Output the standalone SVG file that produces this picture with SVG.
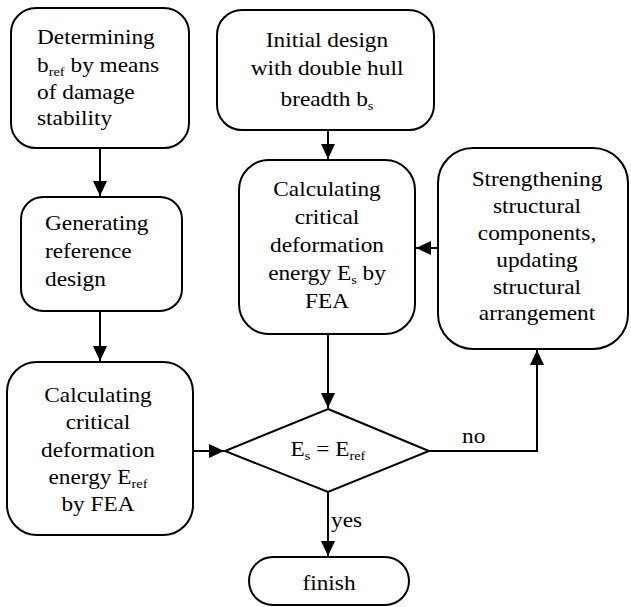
<svg xmlns="http://www.w3.org/2000/svg" width="631" height="607" viewBox="0 0 631 607">
<defs>
<marker id="ah" markerUnits="userSpaceOnUse" markerWidth="16" markerHeight="16" viewBox="0 0 16 16" refX="15" refY="8" orient="auto">
<path d="M0,1 L15,8 L0,15 Z" fill="#000"/>
</marker>
<style>
.n{fill:#fff;stroke:#000;stroke-width:2}
.c{fill:none;stroke:#000;stroke-width:2;marker-end:url(#ah)}
text{font-size:21px;fill:#000}
.m{text-anchor:middle}
.s{font-size:13px}
</style>
</defs>
<rect width="631" height="607" fill="#fff"/>
<g font-family="Liberation Serif, DejaVu Serif, serif">
<g id="connectors">
<path class="c" d="M100,148 V196"/>
<path class="c" d="M100,311 V361"/>
<path class="c" d="M328,130 V159"/>
<path class="c" d="M193,451 H224"/>
<path class="c" d="M438,248 H416"/>
<path class="c" d="M328,334 V408"/>
<path class="c" d="M429,451 H537 V350"/>
<path class="c" d="M328,492 V556"/>
<text transform="matrix(1.11,0,0,1,462,0)" y="443">no</text>
<text transform="matrix(1.11,0,0,1,331,0)" y="527">yes</text>
</g>
<g id="n1">
<rect class="n" x="11" y="8" width="178" height="140" rx="25"/>
<g transform="matrix(1.11,0,0,1,37,0)">
<text y="44">Determining</text>
<text y="72">b<tspan class="s" dy="4">ref</tspan><tspan dy="-4"> by means</tspan></text>
<text y="99">of damage</text>
<text y="125">stability</text>
</g>
</g>
<g id="n2">
<rect class="n" x="217" y="10" width="217" height="120" rx="25"/>
<g transform="matrix(1.11,0,0,1,327,0)">
<text class="m" y="47">Initial design</text>
<text class="m" y="75">with double hull</text>
<text class="m" y="106">breadth b<tspan class="s" dy="4">s</tspan></text>
</g>
</g>
<g id="n3">
<rect class="n" x="21" y="197" width="161" height="114" rx="22"/>
<g transform="matrix(1.11,0,0,1,45,0)">
<text y="230">Generating</text>
<text y="258">reference</text>
<text y="286">design</text>
</g>
</g>
<g id="n4">
<rect class="n" x="7" y="362" width="186" height="173" rx="30"/>
<g transform="matrix(1.11,0,0,1,98,0)">
<text class="m" y="402">Calculating</text>
<text class="m" y="429">critical</text>
<text class="m" y="457">deformation</text>
<text class="m" y="484">energy E<tspan class="s" dy="4">ref</tspan></text>
<text class="m" y="511">by FEA</text>
</g>
</g>
<g id="n5">
<rect class="n" x="239" y="160" width="176" height="174" rx="30"/>
<g transform="matrix(1.11,0,0,1,327,0)">
<text class="m" y="196">Calculating</text>
<text class="m" y="224">critical</text>
<text class="m" y="252">deformation</text>
<text class="m" y="280">energy E<tspan class="s" dy="4">s</tspan><tspan dy="-4"> by</tspan></text>
<text class="m" y="308">FEA</text>
</g>
</g>
<g id="n6">
<rect class="n" x="438" y="148" width="190" height="201" rx="35"/>
<g transform="matrix(1.11,0,0,1,537,0)">
<text class="m" y="186">Strengthening</text>
<text class="m" y="213">structural</text>
<text class="m" y="240">components,</text>
<text class="m" y="267">updating</text>
<text class="m" y="294">structural</text>
<text class="m" y="320">arrangement</text>
</g>
</g>
<g id="d1">
<path class="n" d="M328,409 L429,451 L328,492 L225,451 Z"/>
<g transform="matrix(1.11,0,0,1,328,0)">
<text class="m" y="456">E<tspan class="s" dy="4">s</tspan><tspan dy="-4"> = E</tspan><tspan class="s" dy="4">ref</tspan></text>
</g>
</g>
<g id="f1">
<rect class="n" x="249" y="557" width="160" height="48" rx="24"/>
<g transform="matrix(1.11,0,0,1,329,0)">
<text class="m" y="590">finish</text>
</g>
</g>
</g>
</svg>
